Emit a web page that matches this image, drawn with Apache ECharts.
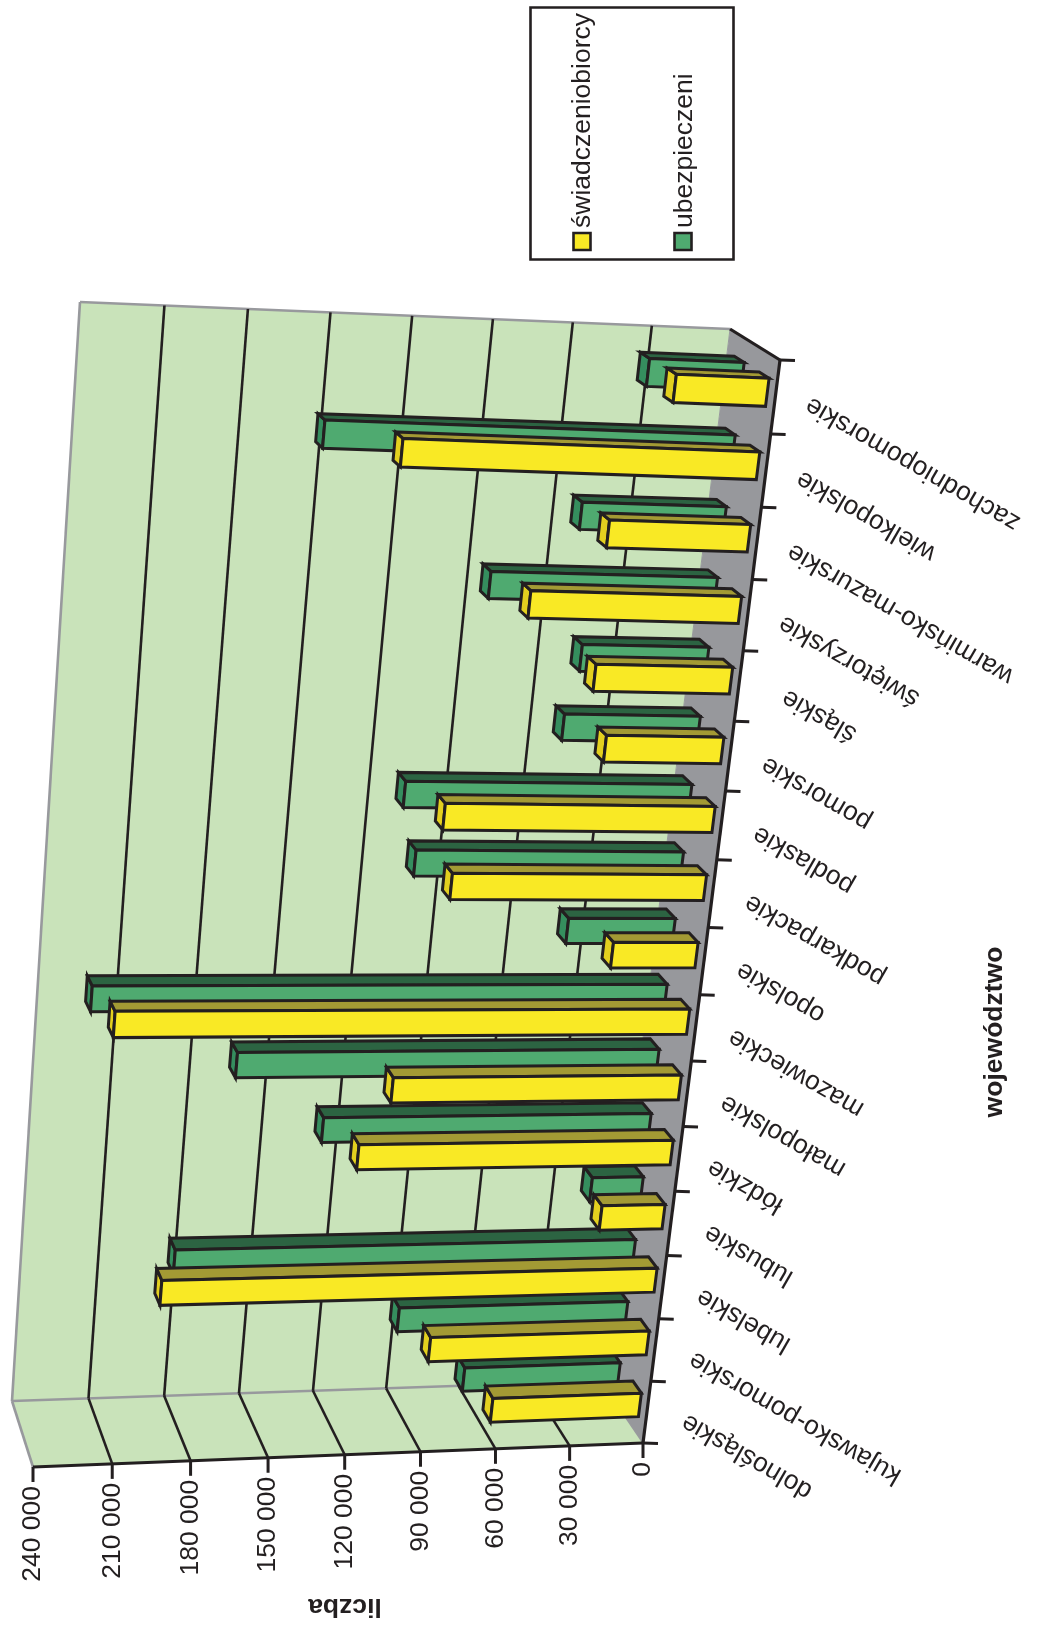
<!DOCTYPE html>
<html><head><meta charset="utf-8">
<style>html,body{margin:0;padding:0;background:#fff}#c{width:1037px;height:1628px}</style>
<script src="https://cdn.jsdelivr.net/npm/echarts@6/dist/echarts.min.js"></script>
</head><body><div id="c"></div>
<script>
const categories = ['dolnośląskie','kujawsko-pomorskie','lubelskie','lubuskie','łódzkie','małopolskie','mazowieckie','opolskie','podkarpackie','podlaskie','pomorskie','śląskie','świętorzyskie','warmińsko-mazurskie','wielkopolskie','zachodniopomorskie'];
const swiadczeniobiorcy = [61500,89000,195200,26500,124400,113700,219900,34300,98900,104200,46200,53200,80500,54200,132500,35700];
const ubezpieczeni = [65400,94500,185000,22000,131700,167100,223700,43600,105700,112200,54100,50200,87800,56200,154200,37000];
const valueTicks = [0,30000,60000,90000,120000,150000,180000,210000,240000];
const valueTickLabels = ['0','30 000','60 000','90 000','120 000','150 000','180 000','210 000','240 000'];
const seriesNames = ['świadczeniobiorcy','ubezpieczeni'];
const valueAxisTitle = 'liczba';
const categoryAxisTitle = 'województwo';

const INK='#231f20', EDGE='#98999d', WALL='#c9e3ba', FLOOR='#97989c';
const FONT='26.5px "Liberation Sans", Arial, sans-serif', BOLD='bold 26.5px "Liberation Sans", Arial, sans-serif';
const C = {F00:[643,1443],F01:[780,360],T00:[33,1467],T01:[107,330],B00:[601,1381],B01:[730,329],BT0:[12,1401],BT1:[80,302]};
const A_C=0.908, A_V=0.957, BASE_U=0.005;
const LABEL_NUDGE={4:[-5,-1],11:[12,3]};
const persp=(p,a)=>p*a/(1+(a-1)*p);
const mix=(a,b,k)=>[a[0]+(b[0]-a[0])*k,a[1]+(b[1]-a[1])*k];
function proj(u,n,z){
  const t=persp(n,A_C), s=persp(u,A_V);
  const front=mix(mix(C.F00,C.F01,t),mix(C.T00,C.T01,t),s);
  const back=mix(mix(C.B00,C.B01,t),mix(C.BT0,C.BT1,t),s);
  return mix(front,back,z);
}
function norm(api,params,val,catIdx,bandOffset){
  const r=params.coordSys, pt=api.coord([val,catIdx]), band=api.size([0,1])[1];
  return [(pt[0]-r.x)/r.width,(r.y+r.height-(pt[1]-bandOffset*band))/r.height];
}
const poly=(pts,fill,stroke,lw)=>({type:'polygon',shape:{points:pts},style:{fill:fill,stroke:stroke,lineWidth:lw,lineJoin:'miter'}});
const line=(a,b,stroke,lw)=>({type:'line',shape:{x1:a[0],y1:a[1],x2:b[0],y2:b[1]},style:{stroke:stroke,lineWidth:lw,lineCap:'butt'}});
const text=(s,x,y,rot,align,font)=>({type:'text',x:x,y:y,rotation:rot,style:{text:s,x:0,y:0,fill:INK,font:font||FONT,align:align,verticalAlign:'middle'}});

function renderWalls(params,api){
  const P=proj;
  return {type:'group',children:[
    poly([P(0,0,0),P(0,1,0),P(0,1,1),P(0,0,1)],FLOOR,null,0),
    poly([P(0,0,1),P(0,1,1),P(1,1,1),P(1,0,1)],WALL,null,0),
    poly([P(0,0,0),P(0,0,1),P(1,0,1),P(1,0,0)],WALL,null,0),
    line(P(0,0,0),P(0,0,1),EDGE,1.5),
    line(P(1,1,1),P(1,0,1),EDGE,2.6),
    line(P(1,0,1),P(0,0,1),EDGE,2.6),
    line(P(1,0,1),P(1,0,0),EDGE,2.6),
    line(P(0,1,1),P(0,0,1),EDGE,1),
    line(P(1,1,1),P(0,1,1),EDGE,2.6),
    line(P(0,0,0),P(0,1,0),INK,3.2),
    line(P(0,1,0),P(0,1,1),INK,3.2),
    line(P(0,0,0),P(1,0,0),INK,3.2)
  ]};
}
function renderValueTick(params,api){
  const i=params.dataIndex, v=api.value(0);
  const r=params.coordSys, u=(api.coord([v,0])[0]-r.x)/r.width;
  const a=proj(u,0,0), b=proj(u,0,1), c=proj(u,1,1);
  const kids=[line([a[0],a[1]],[a[0],a[1]+15],INK,3), text(valueTickLabels[i],a[0],a[1]+19,Math.PI/2,'right')];
  if(i>0&&i<valueTicks.length-1){kids.unshift(line(a,b,INK,2.6),line(b,c,INK,2.6));}
  return {type:'group',children:kids};
}
function renderCategoryTick(params,api){
  const i=params.dataIndex, n0=norm(api,params,0,i,-0.5)[1];
  const a=proj(0,n0,0), kids=[line([a[0],a[1]],[a[0]+15,a[1]+0.5],INK,3)];
  if(i===categories.length-1){const e=proj(0,1,0);kids.push(line([e[0],e[1]],[e[0]+15,e[1]+0.5],INK,3));}
  const nm=norm(api,params,0,i,0)[1], m=proj(0,nm,0), d=LABEL_NUDGE[i]||[0,0];
  kids.push(text(categories[i],m[0]+37-5*nm+d[0],m[1]+8-2*nm+d[1],Math.PI*150/180,'right'));
  return {type:'group',children:kids};
}
function barRenderer(zFront,zBack,colors){
  return function(params,api){
    const i=params.dataIndex, val=api.value(0);
    const lo=-0.17, hi=0.21;
    const n0=norm(api,params,0,i,lo), n1=norm(api,params,0,i,hi), e=norm(api,params,val,i,lo);
    const u0=n0[0]+BASE_U, c0=n0[1], c1=n1[1], u1=e[0];
    const P=proj;
    return {type:'group',children:[
      poly([P(u1,c0,zFront),P(u1,c1,zFront),P(u1,c1,zBack),P(u1,c0,zBack)],colors.cap,INK,3),
      poly([P(u0,c1,zFront),P(u1,c1,zFront),P(u1,c1,zBack),P(u0,c1,zBack)],colors.side,INK,3),
      poly([P(u0,c0,zFront),P(u0,c1,zFront),P(u1,c1,zFront),P(u1,c0,zFront)],colors.face,INK,3)
    ]};
  };
}
const legendX=[583,685];
const option={
  animation:false,
  backgroundColor:'#fff',
  grid:{left:100,right:100,top:100,bottom:100},
  xAxis:{type:'value',min:0,max:240000,interval:30000,show:false},
  yAxis:{type:'category',data:categories,show:false},
  graphic:{elements:[
    {type:'rect',shape:{x:530.5,y:7.5,width:203,height:252},style:{fill:'#fff',stroke:INK,lineWidth:2.6},z:10},
    {type:'rect',shape:{x:573.5,y:233,width:17,height:17},style:{fill:'#f9e925',stroke:INK,lineWidth:2.6},z:11},
    {type:'rect',shape:{x:674.5,y:233,width:17,height:17},style:{fill:'#4faa70',stroke:INK,lineWidth:2.6},z:11},
    {type:'text',x:legendX[0],y:228,rotation:Math.PI/2,style:{text:seriesNames[0],fill:INK,font:FONT,align:'left',verticalAlign:'middle'},z:11},
    {type:'text',x:legendX[1],y:228,rotation:Math.PI/2,style:{text:seriesNames[1],fill:INK,font:FONT,align:'left',verticalAlign:'middle'},z:11},
    {type:'text',x:995,y:1032,rotation:Math.PI/2,style:{text:categoryAxisTitle,fill:INK,font:BOLD,align:'center',verticalAlign:'middle'},z:11},
    {type:'text',x:345,y:1606,rotation:Math.PI,style:{text:valueAxisTitle,fill:INK,font:BOLD,align:'center',verticalAlign:'middle'},z:11}
  ]},
  series:[
    {type:'custom',name:'walls',z:1,clip:false,silent:true,renderItem:renderWalls,data:[[0,0]],encode:{x:0,y:1}},
    {type:'custom',name:'valueTicks',z:2,clip:false,silent:true,renderItem:renderValueTick,data:valueTicks.map(v=>[v,0]),encode:{x:0,y:1}},
    {type:'custom',name:'categoryTicks',z:2,clip:false,silent:true,renderItem:renderCategoryTick,data:categories.map((c,i)=>[0,i]),encode:{x:0,y:1}},
    {type:'custom',name:seriesNames[1],z:3,clip:false,renderItem:barRenderer(0.6,0.8,{face:'#4faa70',side:'#2c6442',cap:'#358e5e'}),data:ubezpieczeni.map((v,i)=>[v,i]),encode:{x:0,y:1}},
    {type:'custom',name:seriesNames[0],z:4,clip:false,renderItem:barRenderer(0.1,0.3,{face:'#f9e925',side:'#a39a34',cap:'#e3d01f'}),data:swiadczeniobiorcy.map((v,i)=>[v,i]),encode:{x:0,y:1}}
  ]
};
const chart=echarts.init(document.getElementById('c'));
chart.setOption(option);
</script></body></html>
